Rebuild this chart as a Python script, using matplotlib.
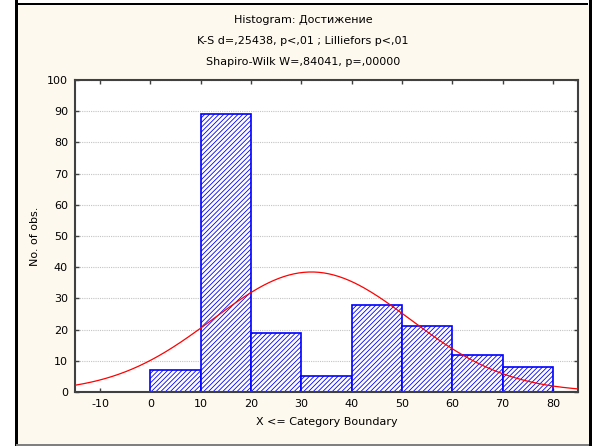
import numpy as np
import matplotlib
matplotlib.use("Agg")
from matplotlib import pyplot as plt
from matplotlib.patches import Rectangle

# bin edges and counts
binEdges = [0, 10, 20, 30, 40, 50, 60, 70, 80]
counts = [7, 89, 19, 5, 28, 21, 12, 8]

# fitted normal curve
fitMean = 32.0
fitSd = 19.6

xTicks = [-10, 0, 10, 20, 30, 40, 50, 60, 70, 80]
yTicks = [0, 10, 20, 30, 40, 50, 60, 70, 80, 90, 100]

titleLines = ["Histogram: Достижение",
              "K-S d=,25438, p<,01 ; Lilliefors p<,01",
              "Shapiro-Wilk W=,84041, p=,00000"]

plt.rcParams['font.family'] = ['DejaVu Sans']
plt.rcParams['axes.unicode_minus'] = False
plt.rcParams['hatch.color'] = '#0000ff'
plt.rcParams['hatch.linewidth'] = 0.6

W, H = 592, 446
fig = plt.figure(figsize=(W / 100, H / 100), dpi=100)
fig.patch.set_facecolor('white')

def px(x, y, w, h):
    return (x / W, 1 - (y + h) / H, w / W, h / H)

# cream panel with borders
fig.patches.append(Rectangle((16 / W, 0), (589 - 16) / W, 1 - 5 / H, transform=fig.transFigure,
                             facecolor='#fef9ee', edgecolor='none', zorder=0))
fig.patches.append(Rectangle((16 / W, 1 - 5 / H), (588 - 16) / W, 2 / H, transform=fig.transFigure,
                             facecolor='black', edgecolor='none', zorder=1))
fig.patches.append(Rectangle((14.5 / W, 0), 3 / W, 1, transform=fig.transFigure,
                             facecolor='black', edgecolor='none', zorder=1))
fig.patches.append(Rectangle((588.5 / W, 0), 3.5 / W, 1, transform=fig.transFigure,
                             facecolor='black', edgecolor='none', zorder=1))
fig.patches.append(Rectangle((16 / W, 0), (589 - 16) / W, 2 / H, transform=fig.transFigure,
                             facecolor='#808080', edgecolor='none', zorder=1))

ax = fig.add_axes(px(75, 80, 503, 312))
ax.set_zorder(2)
ax.set_facecolor('white')

widths = np.diff(binEdges)
ax.bar(binEdges[:-1], counts, width=widths, align='edge', facecolor='white',
       edgecolor='#0000ff', linewidth=1.2, hatch='///////', zorder=2)

xs = np.linspace(-15, 85, 300)
total = sum(counts)
curve = total * 10 * np.exp(-0.5 * ((xs - fitMean) / fitSd) ** 2) / (fitSd * np.sqrt(2 * np.pi))
ax.plot(xs, curve, color='#ff0000', linewidth=0.9, zorder=3)

ax.set_xlim(-15, 85)
ax.set_ylim(0, 100)
ax.set_xticks(xTicks)
ax.set_yticks(yTicks)
ax.tick_params(direction='in', length=3, width=1, colors='#404040', labelcolor='black',
               labelsize=8, top=True, right=True, pad=5)
ax.yaxis.grid(True, linestyle=(0, (1, 1)), color='#c4c4c4', linewidth=0.8)
ax.set_axisbelow(True)
for s in ax.spines.values():
    s.set_color('#404040')
    s.set_linewidth(1.5)

ax.set_xlabel('X <= Category Boundary', fontsize=8, labelpad=6)
ax.set_ylabel('No. of obs.', fontsize=8, labelpad=5)

for i, line in enumerate(titleLines):
    fig.text(303 / W, 1 - (20 + 21 * i) / H, line, ha='center', va='center', fontsize=8)

plt.savefig('out.png', dpi=100)
